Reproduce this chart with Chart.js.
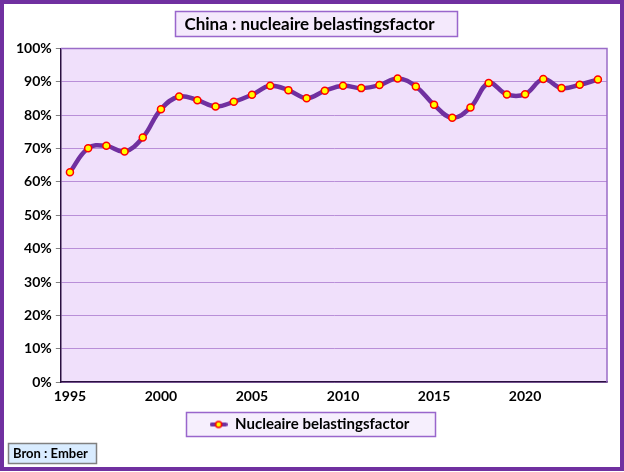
<!DOCTYPE html>
<html>
<head>
<meta charset="utf-8">
<script src="https://cdn.jsdelivr.net/npm/chart.js@4.4.0/dist/chart.umd.min.js"></script>
<style>
html, body { margin: 0; padding: 0; background: #fff; }
</style>
</head>
<body>
<canvas id="myChart" width="624" height="472"></canvas>
<script>
// data
var years = [1995, 1996, 1997, 1998, 1999, 2000, 2001, 2002, 2003, 2004,
             2005, 2006, 2007, 2008, 2009, 2010, 2011, 2012, 2013, 2014,
             2015, 2016, 2017, 2018, 2019, 2020, 2021, 2022, 2023, 2024];
var loadFactor = [62.9, 70.1, 70.8, 69.1, 73.3, 81.8, 85.6, 84.5, 82.6, 84.0,
                  86.1, 88.8, 87.5, 85.1, 87.3, 88.8, 88.1, 89.0, 91.0, 88.6,
                  83.1, 79.2, 82.3, 89.6, 86.2, 86.3, 90.8, 88.1, 89.1, 90.7];
var shownYears = [1995, 2000, 2005, 2010, 2015, 2020];
var titleText = 'China : nucleaire belastingsfactor';
var seriesName = 'Nucleaire belastingsfactor';
var sourceText = 'Bron : Ember';

var purple = '#7030a0';
var fontName = 'Lato, "Open Sans", sans-serif';

// legend marker: purple line with yellow/red dot
var marker = document.createElement('canvas');
marker.width = 18;
marker.height = 10;
var mctx = marker.getContext('2d');
mctx.strokeStyle = purple;
mctx.lineWidth = 4;
mctx.lineCap = 'round';
mctx.beginPath();
mctx.moveTo(2, 5);
mctx.lineTo(16, 5);
mctx.stroke();
mctx.beginPath();
mctx.arc(9, 5, 3, 0, Math.PI * 2);
mctx.fillStyle = '#ffff00';
mctx.fill();
mctx.lineWidth = 1.5;
mctx.strokeStyle = '#ff0000';
mctx.stroke();

function box(ctx, x, y, w, h, fill, stroke, lw) {
    ctx.save();
    ctx.fillStyle = fill;
    ctx.fillRect(x, y, w, h);
    ctx.strokeStyle = stroke;
    ctx.lineWidth = lw;
    ctx.strokeRect(x, y, w, h);
    ctx.restore();
}

var decor = {
    id: 'decor',
    beforeDraw: function(chart) {
        var ctx = chart.ctx;
        var a = chart.chartArea;
        ctx.save();
        ctx.fillStyle = '#ffffff';
        ctx.fillRect(0, 0, chart.width, chart.height);
        ctx.fillStyle = '#f0e0fb';
        ctx.fillRect(a.left, a.top, a.right - a.left, a.bottom - a.top);
        ctx.restore();

        // title box
        box(ctx, 175.5, 11.5, 282, 25, '#f4e9fc', '#9966cc', 1.5);

        // legend box
        var hb = chart.legend.legendHitBoxes[0];
        if (hb) {
            var cx = hb.left + hb.width / 2;
            box(ctx, Math.round(cx - 124) + 0.5, 412.5, 249, 24, '#f6effd', '#9966cc', 1.5);
        }

        // source box
        box(ctx, 8.5, 443.5, 88, 20, '#d9ecff', '#808080', 1.5);
    },
    afterDraw: function(chart) {
        var ctx = chart.ctx;
        var a = chart.chartArea;
        ctx.save();
        // top/right edge of plot area
        ctx.strokeStyle = '#9a6cc8';
        ctx.lineWidth = 1.5;
        ctx.beginPath();
        ctx.moveTo(a.left, a.top);
        ctx.lineTo(a.right, a.top);
        ctx.lineTo(a.right, a.bottom);
        ctx.stroke();

        ctx.fillStyle = '#000';
        ctx.font = 'bold 13px ' + fontName;
        ctx.textBaseline = 'middle';
        ctx.textAlign = 'left';
        ctx.fillText(sourceText, 13, 454);

        // outer border
        ctx.strokeStyle = purple;
        ctx.lineWidth = 4;
        ctx.strokeRect(2, 2, chart.width - 4, chart.height - 5);
        ctx.restore();
    }
};

var ctx = document.getElementById('myChart').getContext('2d');
var chart = new Chart(ctx, {
    type: 'line',
    data: {
        labels: years,
        datasets: [{
            label: seriesName,
            data: loadFactor,
            borderColor: purple,
            borderWidth: 4.5,
            tension: 0.4,
            pointRadius: 3.5,
            pointBackgroundColor: '#ffff00',
            pointBorderColor: '#ff0000',
            pointBorderWidth: 1.5,
            fill: false
        }]
    },
    options: {
        responsive: false,
        animation: false,
        layout: { padding: { left: 12, right: 17, top: 14, bottom: 30 } },
        plugins: {
            title: {
                display: true,
                text: titleText,
                color: '#000',
                font: { family: fontName, size: 17, weight: 'bold' },
                padding: { top: 0, bottom: 14 }
            },
            legend: {
                position: 'bottom',
                labels: {
                    color: '#000',
                    font: { family: fontName, size: 15, weight: 'bold' },
                    usePointStyle: true,
                    pointStyle: marker,
                    pointStyleWidth: 18,
                    boxHeight: 10,
                    padding: 6
                }
            },
            tooltip: { enabled: false }
        },
        scales: {
            x: {
                offset: true,
                grid: { display: false, drawTicks: false },
                border: { display: true, color: '#2a1040', width: 1.5 },
                ticks: {
                    autoSkip: false,
                    maxRotation: 0,
                    padding: 6,
                    color: '#000',
                    font: { family: fontName, size: 14, weight: 'bold' },
                    callback: function(value, index) {
                        var y = years[index];
                        return shownYears.indexOf(y) >= 0 ? String(y) : '';
                    }
                }
            },
            y: {
                min: 0,
                max: 100,
                grid: {
                    color: '#b98fd8',
                    lineWidth: 1,
                    tickColor: '#808080',
                    tickLength: 5
                },
                border: { display: true, color: '#2a1040', width: 1.5 },
                ticks: {
                    stepSize: 10,
                    padding: 4,
                    color: '#000',
                    font: { family: fontName, size: 14, weight: 'bold' },
                    callback: function(v) { return v + '%'; }
                }
            }
        }
    },
    plugins: [decor]
});
</script>
</body>
</html>
